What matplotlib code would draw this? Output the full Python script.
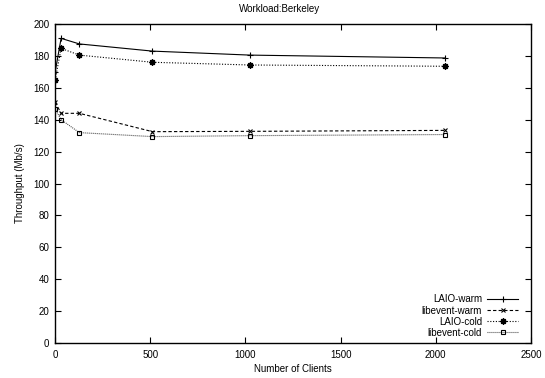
import matplotlib
matplotlib.use("Agg")
import matplotlib.pyplot as plt

# number of clients
clients = [1, 32, 128, 512, 1024, 2048]

# throughput (Mb/s) per configuration
laio_warm = [170.0, 191.0, 187.5, 183.0, 180.5, 178.7]
libevent_warm = [151.0, 144.0, 144.0, 132.5, 132.7, 133.3]
laio_cold = [165.0, 184.7, 180.5, 176.0, 174.3, 173.5]
libevent_cold = [146.7, 140.0, 131.9, 129.4, 130.0, 130.7]

plt.rcParams['font.family'] = ['Liberation Sans', 'DejaVu Sans']
plt.rcParams['font.size'] = 7

fig = plt.figure(figsize=(5.45, 3.78), dpi=100)
ax = fig.add_axes([55 / 545, 1 - 343 / 378, 476 / 545, 319 / 378])

ax.plot(clients, laio_warm, color='black', lw=0.8, ls='-',
        marker='+', ms=4.5, mew=0.8, label='LAIO-warm')
ax.plot(clients, libevent_warm, color='black', lw=0.8, ls=(0, (3, 2)),
        marker='x', ms=3.5, mew=0.8, label='libevent-warm')
ax.plot(clients, laio_cold, color='black', lw=0.8, ls=(0, (1, 1.5)),
        marker=(8, 2, 0), ms=4.5, mew=1.0, label='LAIO-cold')
ax.plot(clients, libevent_cold, color='#333333', lw=0.8, ls=(0, (0.8, 1)),
        marker='s', ms=3.5, mew=0.8, mfc='none', mec='black', label='libevent-cold')

ax.set_xlim(0, 2500)
ax.set_ylim(0, 200)
ax.set_xticks(range(0, 2501, 500))
ax.set_yticks(range(0, 201, 20))
ax.tick_params(direction='in', top=True, right=True, length=4, width=0.8)
ax.tick_params(axis='x', pad=5)
ax.tick_params(axis='y', pad=4)
for s in ax.spines.values():
    s.set_linewidth(1.0)

ax.set_xlabel('Number of Clients', labelpad=3)
ax.set_ylabel('Throughput (Mb/s)', labelpad=6)
fig.text(280 / 545, 1 - 9 / 378, 'Workload:Berkeley', ha='center', va='center', fontsize=7)

ax.legend(loc='lower right', markerfirst=False, frameon=False, fontsize=7,
          handlelength=3.2, handletextpad=0.5, labelspacing=0.12,
          borderaxespad=0, bbox_to_anchor=(0.981, 0.004))

fig.savefig('out.png', dpi=100)
